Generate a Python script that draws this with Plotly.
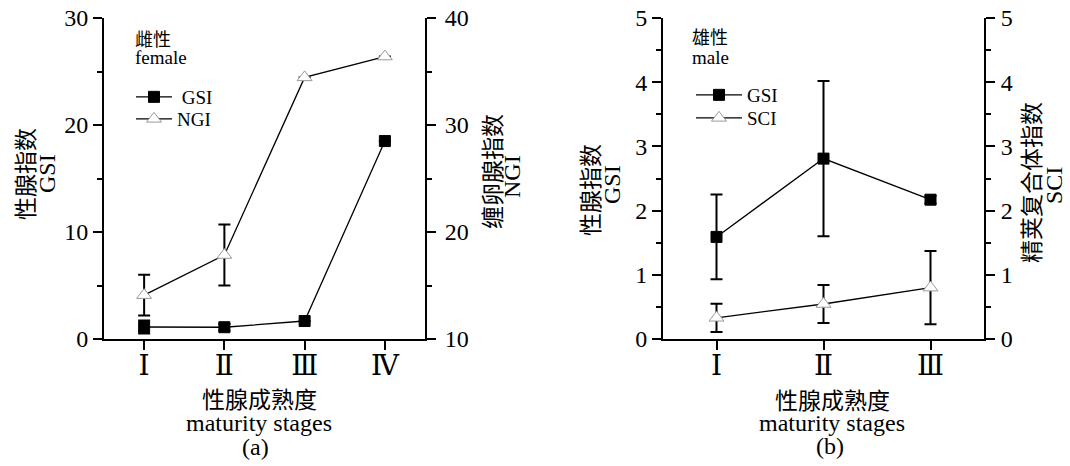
import plotly.graph_objects as go

# ---------------- data ----------------
stages_a = ["Ⅰ", "Ⅱ", "Ⅲ", "Ⅳ"]
stages_b = ["Ⅰ", "Ⅱ", "Ⅲ"]
x_a = [1, 2, 3, 4]
x_b = [1, 2, 3]

# (a) female
gsi_female = [1.12, 1.10, 1.68, 18.5]
gsi_female_err = [0.6, 0.3, 0.0, 0.0]
ngi_female = [14.1, 17.85, 34.45, 36.4]
ngi_female_err = [1.9, 2.85, 0.0, 0.0]

# (b) male
gsi_male = [1.59, 2.81, 2.17]
gsi_male_err = [0.66, 1.21, 0.06]
sci_male = [0.33, 0.545, 0.80]
sci_male_err = [0.22, 0.295, 0.57]

# ---------------- style ----------------
W, H = 1070, 466
SERIF = "Liberation Serif, DejaVu Serif, serif"
CJK = "Noto Sans CJK SC, Noto Sans CJK JP, sans-serif"
ROMAN = "Liberation Serif, DejaVu Serif, serif"


def px(x):
    return x / W


def py(y):
    return 1 - y / H


sq_marker = dict(symbol="square", size=11, color="black", line=dict(color="black", width=1))
tri_marker = dict(symbol="triangle-up", size=13, color="white", line=dict(color="#9a9a9a", width=1))
line_style = dict(color="black", width=1.3)


def err(arr):
    return dict(type="data", array=arr, visible=True, color="black", thickness=2, width=6)


fig = go.Figure()

fig.add_trace(go.Scatter(x=x_a, y=gsi_female, mode="lines+markers", name=" GSI",
                         line=line_style, marker=sq_marker, error_y=err(gsi_female_err),
                         xaxis="x", yaxis="y", legend="legend"))
fig.add_trace(go.Scatter(x=x_a, y=ngi_female, mode="lines+markers", name="NGI",
                         line=line_style, marker=tri_marker, error_y=err(ngi_female_err),
                         xaxis="x", yaxis="y2", legend="legend2"))
fig.add_trace(go.Scatter(x=x_b, y=gsi_male, mode="lines+markers", name="GSI",
                         line=line_style, marker=sq_marker, error_y=err(gsi_male_err),
                         xaxis="x2", yaxis="y3", legend="legend3"))
fig.add_trace(go.Scatter(x=x_b, y=sci_male, mode="lines+markers", name="SCI",
                         line=line_style, marker=tri_marker, error_y=err(sci_male_err),
                         xaxis="x2", yaxis="y4", legend="legend4"))

tickfont = dict(family=SERIF, size=24, color="black")
base_axis = dict(showline=True, linecolor="black", linewidth=2, ticks="outside",
                 ticklen=9, tickwidth=2, tickcolor="black", showgrid=False,
                 zeroline=False, tickfont=tickfont, fixedrange=True, automargin=False)


def yax(rng, dtick, mdtick, **kw):
    d = dict(base_axis)
    d.update(range=rng, dtick=dtick, tick0=0,
             minor=dict(ticks="outside", ticklen=5, tickwidth=2, tickcolor="black",
                        dtick=mdtick, showgrid=False))
    d.update(kw)
    return d


def xax(rng, vals, text, domain, anchor):
    d = dict(base_axis)
    d.update(range=rng, tickvals=vals, ticktext=text, domain=domain, anchor=anchor,
             tickfont=dict(family=ROMAN, size=28, color="black"),
             ticklabelstandoff=-9)
    return d


ydom = [py(339), py(18)]


def leg(x, y, itemwidth):
    return dict(x=px(x), y=py(y), xanchor="left", yanchor="middle",
                bgcolor="rgba(0,0,0,0)", font=dict(family=SERIF, size=19, color="black"),
                itemwidth=itemwidth, borderwidth=0)


fig.update_layout(
    width=W, height=H, autosize=False,
    margin=dict(l=0, r=0, t=0, b=0, autoexpand=False),
    paper_bgcolor="white", plot_bgcolor="white",
    xaxis=xax([0.5, 4.5], x_a, stages_a, [px(104), px(425)], "y"),
    yaxis=yax([0, 30], 10, 5, domain=ydom, anchor="x", side="left"),
    yaxis2=yax([10, 40], 10, 5, domain=ydom, anchor="x", side="right", overlaying="y",
               ticklabelstandoff=4),
    xaxis2=xax([0.5, 3.5], x_b, stages_b, [px(663), px(984)], "y3"),
    yaxis3=yax([0, 5], 1, 0.5, domain=ydom, anchor="x2", side="left"),
    yaxis4=yax([0, 5], 1, 0.5, domain=ydom, anchor="x2", side="right", overlaying="y3",
               ticklabelstandoff=1),
    legend=leg(131, 97, 36),
    legend2=leg(131, 119, 36),
    legend3=leg(691, 95, 46),
    legend4=leg(691, 118, 46),
    showlegend=True,
)


def ann(text, x, y, font, size, angle=0, xanchor="center"):
    fig.add_annotation(text=text, x=px(x), y=py(y), xref="paper", yref="paper",
                       showarrow=False, xanchor=xanchor, yanchor="middle",
                       textangle=angle, font=dict(family=font, size=size, color="black"))


# panel (a) texts
ann("雌性", 133, 38, CJK, 18, xanchor="left")
ann("female", 133, 58, SERIF, 19, xanchor="left")
ann("性腺指数", 24, 174, CJK, 23, angle=-90)
ann("GSI", 47, 174, SERIF, 24, angle=-90)
ann("缠卵腺指数", 491, 172, CJK, 23, angle=-90)
ann("NGI", 512, 177, SERIF, 24, angle=-90)
ann("性腺成熟度", 259, 398, CJK, 23)
ann("maturity stages", 259, 423, SERIF, 24)
ann("(a)", 255, 447, SERIF, 24)

# panel (b) texts
ann("雄性", 690, 36, CJK, 18, xanchor="left")
ann("male", 690, 57, SERIF, 19, xanchor="left")
ann("性腺指数", 589, 190, CJK, 23, angle=-90)
ann("GSI", 612, 185, SERIF, 24, angle=-90)
ann("精荚复合体指数", 1030, 183, CJK, 23, angle=-90)
ann("SCI", 1054, 186, SERIF, 24, angle=-90)
ann("性腺成熟度", 832, 399, CJK, 23)
ann("maturity stages", 832, 423, SERIF, 24)
ann("(b)", 830, 446, SERIF, 24)

# remove the default 8px page margin so the figure sits at the window origin
fig.write_html("out.html", config={"displayModeBar": False},
               post_script="document.body.style.margin='0';")
